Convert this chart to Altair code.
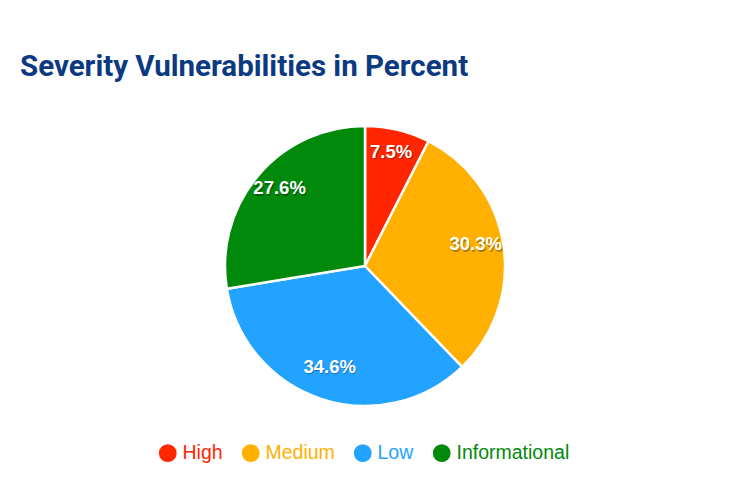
import altair as alt
import pandas as pd

categories = ["High", "Medium", "Low", "Informational"]
percents = [7.5, 30.3, 34.6, 27.6]
colors = ["#ff2600", "#ffb000", "#21a3ff", "#00890b"]
labels = ["7.5%", "30.3%", "34.6%", "27.6%"]

df = pd.DataFrame({
    "category": categories,
    "percent": percents,
    "label": labels,
    "order": list(range(len(categories))),
})

color_scale = alt.Scale(domain=categories, range=colors)

base = alt.Chart(df).encode(
    theta=alt.Theta("percent:Q", stack=True),
    order=alt.Order("order:Q"),
)

pie = base.mark_arc(outerRadius=140, stroke="white", strokeWidth=2.5).encode(
    color=alt.Color(
        "category:N",
        scale=color_scale,
        sort=categories,
        legend=alt.Legend(
            title=None,
            orient="none",
            legendX=138,
            legendY=317,
            direction="horizontal",
            symbolType="circle",
            symbolSize=314,
            symbolStrokeWidth=0,
            labelFontSize=19.5,
            labelFont="Liberation Sans",
            labelOffset=5,
            columnPadding=18,
            labelColor={"expr": "scale('color', datum.value)"},
        ),
    )
)

shadow = base.mark_text(
    radius=112, fontSize=18.5, fontWeight="bold", font="Liberation Sans",
    color="black", opacity=0.3, dx=1, dy=-4
).encode(text="label:N")

text = base.mark_text(
    radius=112, fontSize=18.5, fontWeight="bold", font="Liberation Sans",
    color="white", dy=-5.5
).encode(text="label:N")

chart = alt.layer(pie, shadow, text).properties(
    width=690,
    height=280,
    padding={"left": 12, "top": 43, "right": 10, "bottom": 10},
    title=alt.TitleParams(
        "Severity Vulnerabilities in Percent",
        anchor="start",
        fontSize=29.5,
        font="Roboto",
        fontWeight="bold",
        color="#0b3a82",
        offset=39,
    ),
).configure_view(stroke=None).configure(background="white")

chart.save("out.html", embed_options={"renderer": "svg", "actions": False})
